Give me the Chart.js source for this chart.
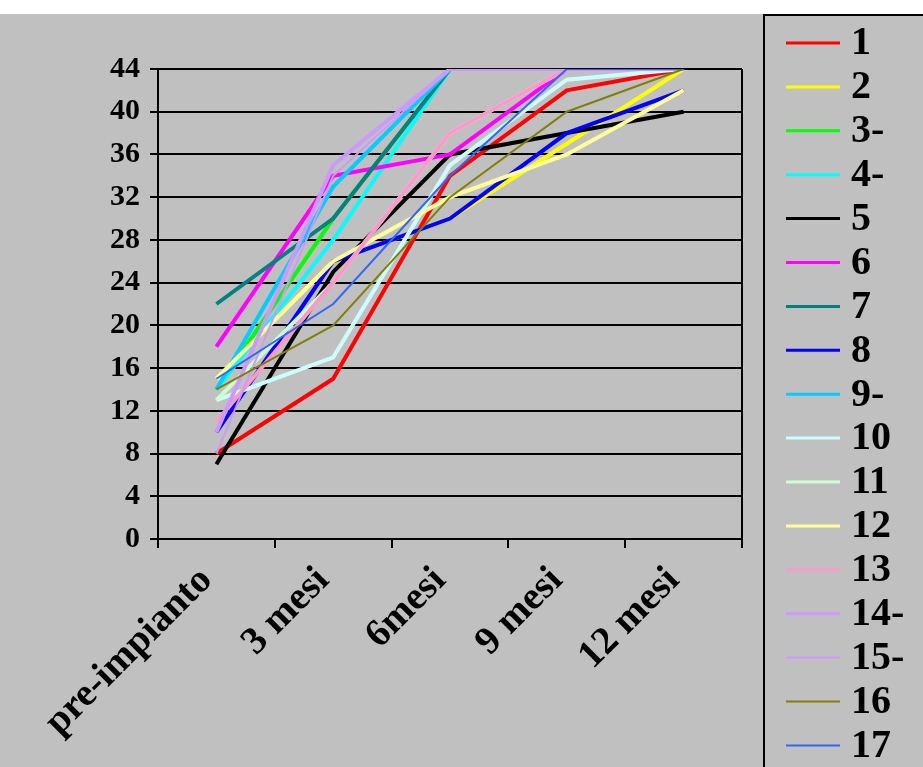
<!DOCTYPE html>
<html>
<head>
<meta charset="utf-8">
<script src="https://cdn.jsdelivr.net/npm/chart.js@4/dist/chart.umd.min.js"></script>
<style>
  html, body { margin: 0; padding: 0; background: #fff; }
  canvas { display: block; }
</style>
</head>
<body>
<canvas id="chart" width="923" height="767"></canvas>
<script>
const categories = ["pre-impianto", "3 mesi", "6mesi", "9 mesi", "12 mesi"];
const yTicks = [0, 4, 8, 12, 16, 20, 24, 28, 32, 36, 40, 44];

const seriesNames = ["1", "2", "3-", "4-", "5", "6", "7", "8", "9-", "10", "11", "12", "13", "14-", "15-", "16", "17"];
const s1 = [8, 15, 34, 42, 44];
const s2 = [15, 26, 30, 37, 44];
const s3 = [14, 30, 44, 44, 44];
const s4 = [14, 28, 44, 44, 44];
const s5 = [7, 25, 36, 38, 40];
const s6 = [18, 34, 36, 44, 44];
const s7 = [22, 30, 44, 44, 44];
const s8 = [10, 26, 30, 38, 42];
const s9 = [14, 33, 44, 44, 44];
const s10 = [13, 17, 35, 43, 44];
const s11 = [13, 24, 38, 44, 44];
const s12 = [15, 26, 32, 36, 42];
const s13 = [11, 24, 38, 44, 44];
const s14 = [10, 35, 44, 44, 44];
const s15 = [8, 34, 44, 44, 44];
const s16 = [14, 20, 32, 40, 44];
const s17 = [15, 22, 34, 44, 44];
const seriesValues = [s1, s2, s3, s4, s5, s6, s7, s8, s9, s10, s11, s12, s13, s14, s15, s16, s17];

const seriesColors = ["#ff0000", "#ffff00", "#00ff00", "#00ffff", "#000000", "#ff00ff", "#008080", "#0000ff",
  "#00ccff", "#ccffff", "#ccffcc", "#ffff99", "#ff99cc", "#cc99ff", "#cc99ff", "#808000", "#3366ff"];
const seriesWidths = [4, 4, 4, 4, 4, 4, 4, 4, 4, 4, 4, 4, 4, 4, 2, 2, 2];

const FONT = "'Liberation Serif', 'Times New Roman', serif";

// gray backdrop, right frame line and the boxed legend
const excelLook = {
  id: "excelLook",
  beforeDraw(chart) {
    const ctx = chart.ctx;
    ctx.save();
    ctx.fillStyle = "#c0c0c0";
    ctx.fillRect(0, 14, chart.width, chart.height - 14);
    ctx.restore();
  },
  afterDraw(chart) {
    const ctx = chart.ctx;
    const area = chart.chartArea;
    ctx.save();
    ctx.strokeStyle = "#000";
    ctx.lineWidth = 2;
    ctx.beginPath();
    ctx.moveTo(area.right, area.top);
    ctx.lineTo(area.right, area.bottom);
    ctx.stroke();

    // legend
    ctx.strokeRect(764, 15, 170, 770);
    ctx.font = "bold 40px " + FONT;
    ctx.textBaseline = "middle";
    ctx.fillStyle = "#000";
    chart.data.datasets.forEach((ds, i) => {
      const y = 43 + i * 43.9;
      ctx.strokeStyle = ds.borderColor;
      ctx.lineWidth = ds.borderWidth === 2 ? 2 : 3;
      ctx.beginPath();
      ctx.moveTo(786, y);
      ctx.lineTo(840, y);
      ctx.stroke();
      ctx.fillText(ds.label, 851, y + 1);
    });
    ctx.restore();
  }
};

new Chart(document.getElementById("chart"), {
  type: "line",
  data: {
    labels: categories,
    datasets: seriesNames.map((name, i) => ({
      label: name,
      data: seriesValues[i],
      borderColor: seriesColors[i],
      backgroundColor: seriesColors[i],
      borderWidth: seriesWidths[i],
      pointRadius: 0,
      tension: 0,
      fill: false,
      order: -i
    }))
  },
  options: {
    responsive: false,
    animation: false,
    layout: { padding: { left: 0, top: 69, right: 181, bottom: 0 } },
    plugins: {
      legend: { display: false },
      tooltip: { enabled: false }
    },
    scales: {
      x: {
        offset: true,
        grid: { drawOnChartArea: false, drawTicks: true, tickLength: 9, color: "#000", lineWidth: 2, offset: true },
        border: { color: "#000", width: 2 },
        ticks: {
          color: "#000",
          font: { family: FONT, size: 39, weight: "bold" },
          minRotation: 45,
          maxRotation: 45,
          autoSkip: false,
          padding: 10,
          labelOffset: -10
        },
        afterFit(scale) { scale.height = 767 - 539; }
      },
      y: {
        min: 0,
        max: 44,
        afterBuildTicks(scale) { scale.ticks = yTicks.map(v => ({ value: v })); },
        grid: { color: "#000", lineWidth: 2, tickLength: 8 },
        border: { color: "#000", width: 2 },
        ticks: {
          color: "#000",
          font: { family: FONT, size: 30, weight: "bold" },
          padding: 10
        },
        afterFit(scale) { scale.width = 158; }
      }
    }
  },
  plugins: [excelLook]
});
</script>
</body>
</html>
